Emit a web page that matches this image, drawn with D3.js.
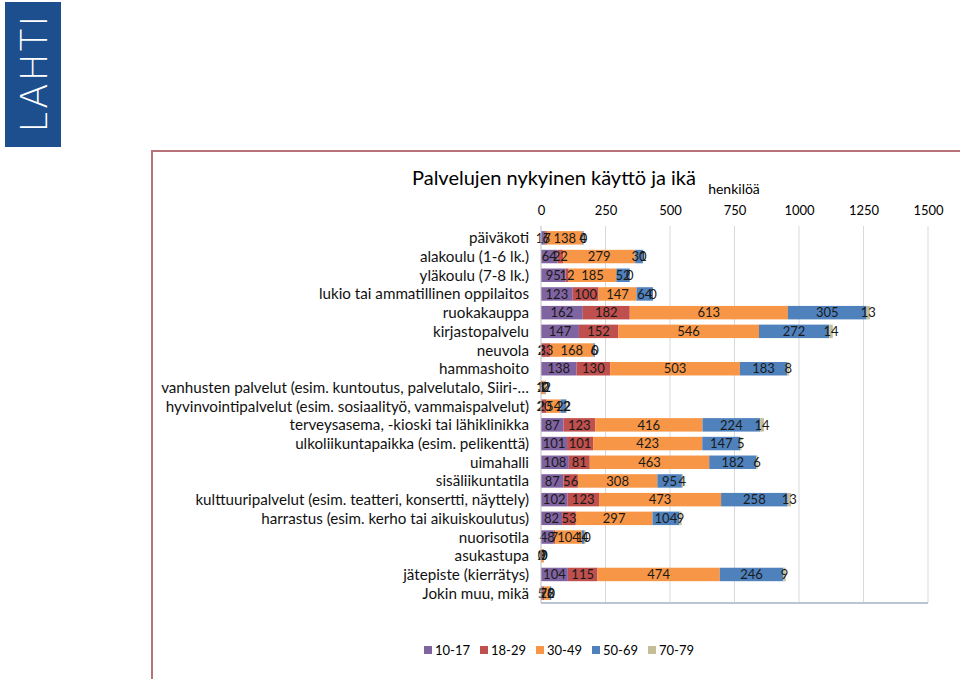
<!DOCTYPE html>
<html>
<head>
<meta charset="utf-8">
<script src="https://cdn.jsdelivr.net/npm/d3@7/dist/d3.min.js"></script>
<style>
  html, body { margin: 0; padding: 0; background: #fff; }
  svg { display: block; }
</style>
</head>
<body>
<svg id="chart" width="960" height="679"></svg>
<script>
const categories = [
  "päiväkoti",
  "alakoulu (1-6 lk.)",
  "yläkoulu (7-8 lk.)",
  "lukio tai ammatillinen oppilaitos",
  "ruokakauppa",
  "kirjastopalvelu",
  "neuvola",
  "hammashoito",
  "vanhusten palvelut (esim. kuntoutus, palvelutalo, Siiri-…",
  "hyvinvointipalvelut (esim. sosiaalityö, vammaispalvelut)",
  "terveysasema, -kioski tai lähiklinikka",
  "ulkoliikuntapaikka (esim. pelikenttä)",
  "uimahalli",
  "sisäliikuntatila",
  "kulttuuripalvelut (esim. teatteri, konsertti, näyttely)",
  "harrastus (esim. kerho tai aikuiskoulutus)",
  "nuorisotila",
  "asukastupa",
  "jätepiste (kierrätys)",
  "Jokin muu, mikä"
];
const seriesNames = ["10-17", "18-29", "30-49", "50-69", "70-79"];
const age10_17 = [17, 64, 95, 123, 162, 147, 2, 138, 3, 2, 87, 101, 108, 87, 102, 82, 48, 2, 104, 5];
const age18_29 = [6, 22, 12, 100, 182, 152, 33, 130, 1, 20, 123, 101, 81, 56, 123, 53, 7, 0, 115, 7];
const age30_49 = [138, 279, 185, 147, 613, 546, 168, 503, 12, 54, 416, 423, 463, 308, 473, 297, 104, 9, 474, 22];
const age50_69 = [4, 30, 52, 64, 305, 272, 6, 183, 2, 22, 224, 147, 182, 95, 258, 104, 10, 0, 246, 6];
const age70_79 = [0, 1, 0, 0, 13, 14, 0, 8, 0, 2, 14, 5, 6, 4, 13, 9, 4, 0, 9, 0];
const tickValues = [0, 250, 500, 750, 1000, 1250, 1500];
const colors = ["#8064a2", "#c0504d", "#f79646", "#4f81bd", "#c4bd97"];

const seriesData = [age10_17, age18_29, age30_49, age50_69, age70_79];
const table = categories.map((c, i) => {
  const row = { category: c };
  seriesNames.forEach((s, k) => row[s] = seriesData[k][i]);
  return row;
});

const svg = d3.select("#chart");
const FONT = "Lato, 'Open Sans', sans-serif";

// Logo
svg.append("rect").attr("x", 5).attr("y", 2).attr("width", 56).attr("height", 145).attr("fill", "#1d4f8e");
svg.append("text")
  .attr("transform", "translate(47,74) rotate(-90)")
  .attr("text-anchor", "middle")
  .attr("fill", "#fff")
  .attr("font-family", "'DejaVu Sans', sans-serif")
  .attr("font-weight", 200)
  .attr("font-size", 37)
  .attr("textLength", 117)
  .attr("lengthAdjust", "spacing")
  .text("LAHTI");

// Frame
svg.append("rect").attr("x", 152).attr("y", 151).attr("width", 830).attr("height", 560)
  .attr("fill", "none").attr("stroke", "#b8737a").attr("stroke-width", 2);

// Title
svg.append("text").attr("x", 554).attr("y", 185).attr("text-anchor", "middle")
  .attr("font-family", FONT).attr("font-size", 20).attr("fill", "#000")
  .text("Palvelujen nykyinen käyttö ja ikä");
svg.append("text").attr("x", 734).attr("y", 194).attr("text-anchor", "middle")
  .attr("font-family", FONT).attr("font-size", 14).attr("fill", "#000")
  .text("henkilöä");

const x = d3.scaleLinear().domain([0, 1500]).range([541, 928]);
const y = d3.scaleBand().domain(categories).range([228.5, 602.5]).paddingInner(0.28).paddingOuter(0.14);

// gridlines
svg.append("g").selectAll("line").data(tickValues.slice(1)).join("line")
  .attr("x1", d => x(d)).attr("x2", d => x(d)).attr("y1", 226).attr("y2", 603)
  .attr("stroke", "#d9d9d9").attr("stroke-width", 1);

// top axis
const axis = d3.axisTop(x).tickValues(tickValues).tickSize(0).tickPadding(0).tickFormat(d3.format("d"));
const gA = svg.append("g").attr("transform", "translate(0,215)").call(axis);
gA.select(".domain").remove();
gA.selectAll("text").attr("font-family", FONT).attr("font-size", 13).attr("fill", "#000");

// stacked bars
const stack = d3.stack().keys(seriesNames);
const stacked = stack(table);
const gBars = svg.append("g");
stacked.forEach((layer, k) => {
  gBars.append("g").selectAll("rect").data(layer).join("rect")
    .attr("x", d => x(d[0])).attr("width", d => x(d[1]) - x(d[0]))
    .attr("y", d => y(d.data.category)).attr("height", y.bandwidth())
    .attr("fill", colors[k]);
});
// labels
const gLab = svg.append("g");
stacked.forEach((layer, k) => {
  gLab.append("g").selectAll("text").data(layer).join("text")
    .attr("x", d => x((d[0] + d[1]) / 2))
    .attr("y", d => y(d.data.category) + y.bandwidth() / 2)
    .attr("dy", "0.36em")
    .attr("text-anchor", "middle")
    .attr("font-family", FONT).attr("font-size", 13).attr("fill", "#1a1a1a")
    .text(d => d.data[layer.key]);
});

// left axis line & bottom line
svg.append("line").attr("x1", 541).attr("x2", 541).attr("y1", 226).attr("y2", 603)
  .attr("stroke", "#bfbfbf").attr("stroke-width", 1);
svg.append("line").attr("x1", 541).attr("x2", 928).attr("y1", 603).attr("y2", 603)
  .attr("stroke", "#b9c4d4").attr("stroke-width", 2);

// category labels
svg.append("g").selectAll("text").data(categories).join("text")
  .attr("x", 529).attr("y", d => y(d) + y.bandwidth() / 2).attr("dy", "0.36em")
  .attr("text-anchor", "end").attr("font-family", FONT).attr("font-size", 15.2).attr("fill", "#111")
  .text(d => d);

// legend
const lg = svg.append("g").selectAll("g").data(seriesNames).join("g")
  .attr("transform", (d, i) => `translate(${424 + i * 56},650)`);
lg.append("rect").attr("x", 0).attr("y", -4).attr("width", 8).attr("height", 8).attr("fill", (d, i) => colors[i]);
lg.append("text").attr("x", 11).attr("y", 0).attr("dy", "0.36em")
  .attr("font-family", FONT).attr("font-size", 13).attr("fill", "#000").text(d => d);
</script>
</body>
</html>
